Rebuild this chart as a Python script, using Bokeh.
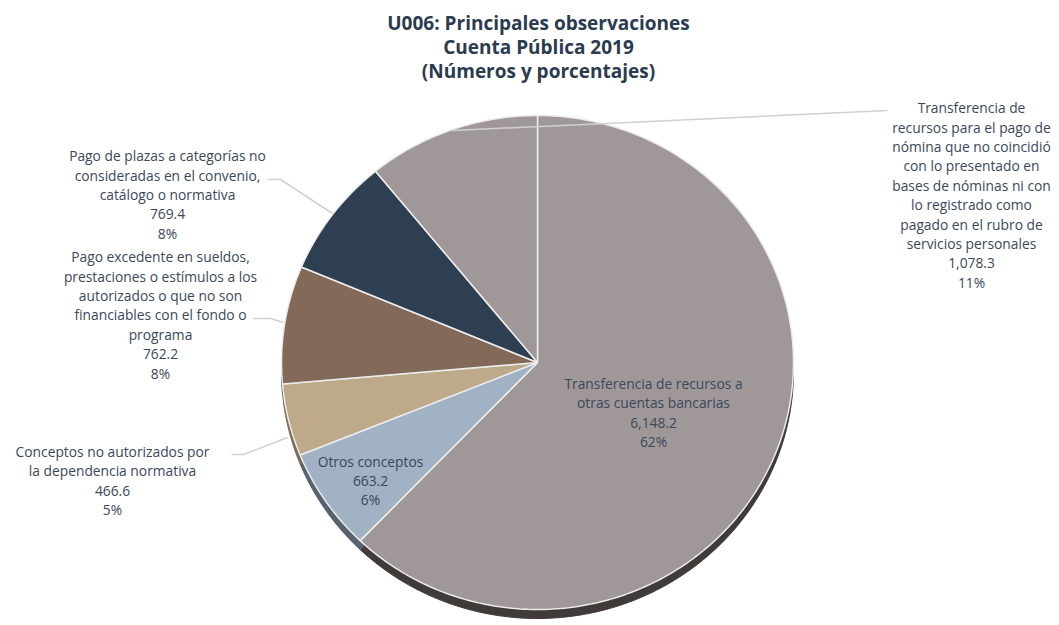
import numpy as np
from bokeh.plotting import figure
from bokeh.models import Range1d
from bokeh.core.properties import value
from bokeh.embed import file_html
from bokeh.resources import INLINE

# Categories (clockwise from 12 o'clock), their amounts and stated shares
categories = [
    "Transferencia de recursos a\notras cuentas bancarias",
    "Otros conceptos",
    "Conceptos no autorizados por\nla dependencia normativa",
    "Pago excedente en sueldos,\nprestaciones o estímulos a los\nautorizados o que no son\nfinanciables con el fondo o\nprograma",
    "Pago de plazas a categorías no\nconsideradas en el convenio,\ncatálogo o normativa",
    "Transferencia de\nrecursos para el pago de\nnómina que no coincidió\ncon lo presentado en\nbases de nóminas ni con\nlo registrado como\npagado en el rubro de\nservicios personales",
]
amounts = [6148.2, 663.2, 466.6, 762.2, 769.4, 1078.3]
shares = [62, 6, 5, 8, 8, 11]
top_colors = ["#a09898", "#a0b2c4", "#bfa98b", "#836a58", "#2f3f52", "#a09898"]
side_colors = ["#403a38", "#56636f", "#7d6c56", "#4e3e33", "#1c2633", "#403a38"]

# label anchor points (pixel space) for each category
label_x = [653, 370, 112, 160, 167, 971]
label_y = [412, 480, 480, 314.5, 194, 194.5]

W, H = 1059, 625
CX, CY, RX, RY = 537, 362, 256, 247
DEPTH = 9

p = figure(width=W, height=H, output_backend="svg", toolbar_location=None,
           x_range=Range1d(0, W), y_range=Range1d(H, 0),
           min_border=0, outline_line_color=None, background_fill_color="white")
p.axis.visible = False
p.grid.visible = False

total = sum(amounts)
fracs = [a / total for a in amounts]


def slice_poly(start, sweep, dy=0.0):
    n = max(int(sweep * 400), 4)
    ang = np.radians(90 - 360 * (start + np.linspace(0, sweep, n)))
    xs = [CX] + list(CX + RX * np.cos(ang)) + [CX]
    ys = [CY + dy] + list(CY + dy - RY * np.sin(ang)) + [CY + dy]
    return xs, ys


starts = np.concatenate([[0], np.cumsum(fracs)[:-1]])
top_xs, top_ys, side_xs, side_ys = [], [], [], []
for s, f in zip(starts, fracs):
    x, y = slice_poly(s, f)
    top_xs.append(x); top_ys.append(y)
    x2, y2 = slice_poly(s, f, DEPTH)
    side_xs.append(x2); side_ys.append(y2)

# pie thickness
p.patches(side_xs, side_ys, fill_color=side_colors, line_color=side_colors, line_width=1)
# pie face
p.patches(top_xs, top_ys, fill_color=top_colors, line_color="#ececec", line_width=1.5)

# leader lines
leader_col = "#d0d0d0"
p.line([452, 887], [130, 110], line_color=leader_col, line_width=1.5)
p.line([267, 280, 332], [179, 179, 213], line_color=leader_col, line_width=1.5)
p.line([253, 270, 283], [318, 318, 322], line_color=leader_col, line_width=1.5)
p.line([231, 243, 287], [454, 454, 437], line_color=leader_col, line_width=1.5)

# data labels: name, amount, share
labels = [f"{c}\n{a:,.1f}\n{s}%" for c, a, s in zip(categories, amounts, shares)]
p.text(x=label_x, y=label_y, text=labels, text_align="center", text_baseline="middle",
       text_font=value("Open Sans"), text_font_size="13.8px", text_color="#39485b",
       text_line_height=1.02)

# title
title_lines = ["U006: Principales observaciones", "Cuenta Pública 2019", "(Números y porcentajes)"]
p.text(x=[538, 538, 538], y=[22, 46, 70], text=title_lines, text_align="center",
       text_baseline="middle", text_font=value("Open Sans"), text_font_style="bold",
       text_font_size="19px", text_color="#2b3b4f")

open("out.html", "w").write(file_html(p, INLINE))
